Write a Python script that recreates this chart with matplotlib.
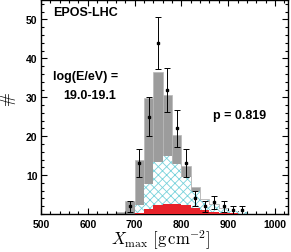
import numpy as np
import matplotlib
matplotlib.use("Agg")
import matplotlib.pyplot as plt
from matplotlib.ticker import MultipleLocator

# Data
bin_edges = [660, 680, 700, 720, 740, 760, 780, 800, 820, 840, 860, 880, 900, 920, 940]
total_fit = [0.5, 3.3, 13.8, 29.8, 36.5, 30.6, 20.4, 12.4, 7.0, 3.9, 2.6, 1.6, 0.9, 0.4]
comp_cyan = [0.0, 0.0, 2.4, 7.8, 13.5, 14.8, 12.8, 9.5, 5.8, 3.5, 2.3, 1.4, 0.8, 0.4]
comp_red = [0.0, 0.0, 0.3, 1.3, 2.2, 2.6, 2.7, 2.2, 1.6, 1.0, 0.6, 0.35, 0.15, 0.05]
data_x = [690, 710, 730, 750, 770, 790, 810, 830, 850, 870, 890, 910, 930]
data_counts = [2, 13, 25, 44, 32, 22, 13, 4, 2, 3, 2, 1, 1]

plt.rcParams['mathtext.fontset'] = 'cm'
plt.rcParams['hatch.linewidth'] = 0.6

fig = plt.figure(figsize=(2.91, 2.53), dpi=100)
ax = fig.add_axes([0.141, 0.150, 0.849, 0.846])

left = np.array(bin_edges[:-1])
w = np.diff(bin_edges)
ax.bar(left, total_fit, width=w, align='edge', color='#9c9c9c', edgecolor='#b8b8b8', linewidth=0.5, zorder=1)
ax.bar(left, comp_cyan, width=w, align='edge', color='white', edgecolor='#78d2dc', hatch='xxxx', linewidth=0, zorder=2)
ax.bar(left, comp_red, width=w, align='edge', color='#e8222a', edgecolor='#e8222a', linewidth=0, zorder=3)

cnt = np.array(data_counts, dtype=float)
ax.errorbar(data_x, cnt, yerr=np.sqrt(cnt), fmt='s', color='black', ms=1.8,
            elinewidth=0.7, capsize=2, capthick=0.7, zorder=5)

ax.set_xlim(500, 1028)
ax.set_ylim(0, 55)
ax.xaxis.set_major_locator(MultipleLocator(100))
ax.xaxis.set_minor_locator(MultipleLocator(20))
ax.yaxis.set_major_locator(MultipleLocator(10))
ax.yaxis.set_minor_locator(MultipleLocator(2))
ax.tick_params(which='both', direction='in', top=True, right=True, width=0.8)
ax.tick_params(which='major', length=4, labelsize=7.5)
ax.tick_params(axis='x', which='major', pad=3.5)
ax.tick_params(axis='y', which='major', pad=2.5)
ax.tick_params(which='minor', length=2)
ax.set_yticks([10, 20, 30, 40, 50])
for lab in ax.get_xticklabels() + ax.get_yticklabels():
    lab.set_fontweight('bold')
    lab.set_fontfamily('Liberation Sans')
for sp in ax.spines.values():
    sp.set_linewidth(1.0)

fig.text(161 / 291, 0.5 / 253, r'$X_{\mathrm{max}}\ [\mathrm{g\,cm^{-2}}]$', fontsize=12,
         ha='center', va='bottom')
fig.text(8 / 291, 1 - 100 / 253, r'$\#$', fontsize=12, rotation=90, ha='center', va='center')

tf = dict(fontsize=9, fontweight='bold', family='Liberation Sans', transform=ax.transAxes)
ax.text(0.047, 0.945, 'EPOS-LHC', ha='left', va='center', **tf)
ax.text(0.047, 0.645, 'log(E/eV) =', ha='left', va='center', **tf)
ax.text(0.088, 0.555, '19.0-19.1', ha='left', va='center', **tf)
ax.text(0.695, 0.465, 'p = 0.819', ha='left', va='center', **tf)

fig.savefig('out.png', dpi=100)
